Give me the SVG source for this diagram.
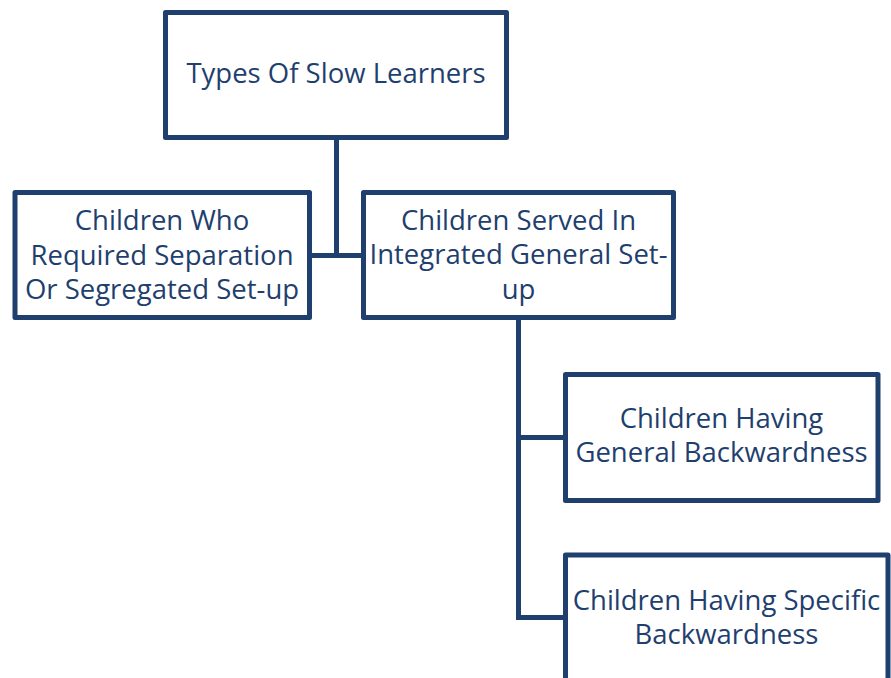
<svg xmlns="http://www.w3.org/2000/svg" width="891" height="678" viewBox="0 0 891 678">
<style>
.box{fill:#ffffff;stroke:#1f3f6e;stroke-width:5;stroke-linejoin:round}
.con{fill:none;stroke:#1f3f6e;stroke-width:5;stroke-linejoin:miter}
.t{font-family:"Open Sans","Noto Sans",sans-serif;font-size:27.5px;fill:#1f3f6e;text-anchor:middle}
</style>
<rect width="891" height="678" fill="#ffffff"/>
<g id="connectors">
<path class="con" d="M336.5,137.5 V255.5"/>
<path class="con" d="M309.5,255.5 H363.5"/>
<path class="con" d="M518.5,317.5 V617.5 H565.5"/>
<path class="con" d="M518.5,437.5 H565.5"/>
</g>
<g id="node-root">
<rect class="box" x="165.5" y="12.5" width="341" height="125"/>
<text class="t" x="336" y="83">Types Of Slow Learners</text>
</g>
<g id="node-separation">
<rect class="box" x="15" y="192.5" width="294.5" height="125"/>
<text class="t" x="162" y="230">Children Who</text>
<text class="t" x="162" y="264.5">Required Separation</text>
<text class="t" x="162" y="299">Or Segregated Set-up</text>
</g>
<g id="node-integrated">
<rect class="box" x="363.5" y="192.5" width="310" height="125"/>
<text class="t" x="518.5" y="230">Children Served In</text>
<text class="t" x="518.5" y="264">Integrated General Set-</text>
<text class="t" x="518.5" y="298.5">up</text>
</g>
<g id="node-general">
<rect class="box" x="565.5" y="374.5" width="312.5" height="126"/>
<text class="t" x="721.5" y="428">Children Having</text>
<text class="t" x="721.5" y="462">General Backwardness</text>
</g>
<g id="node-specific">
<rect class="box" x="565.5" y="555" width="322.5" height="140"/>
<text class="t" x="726.5" y="610">Children Having Specific</text>
<text class="t" x="726.5" y="644">Backwardness</text>
</g>
</svg>
